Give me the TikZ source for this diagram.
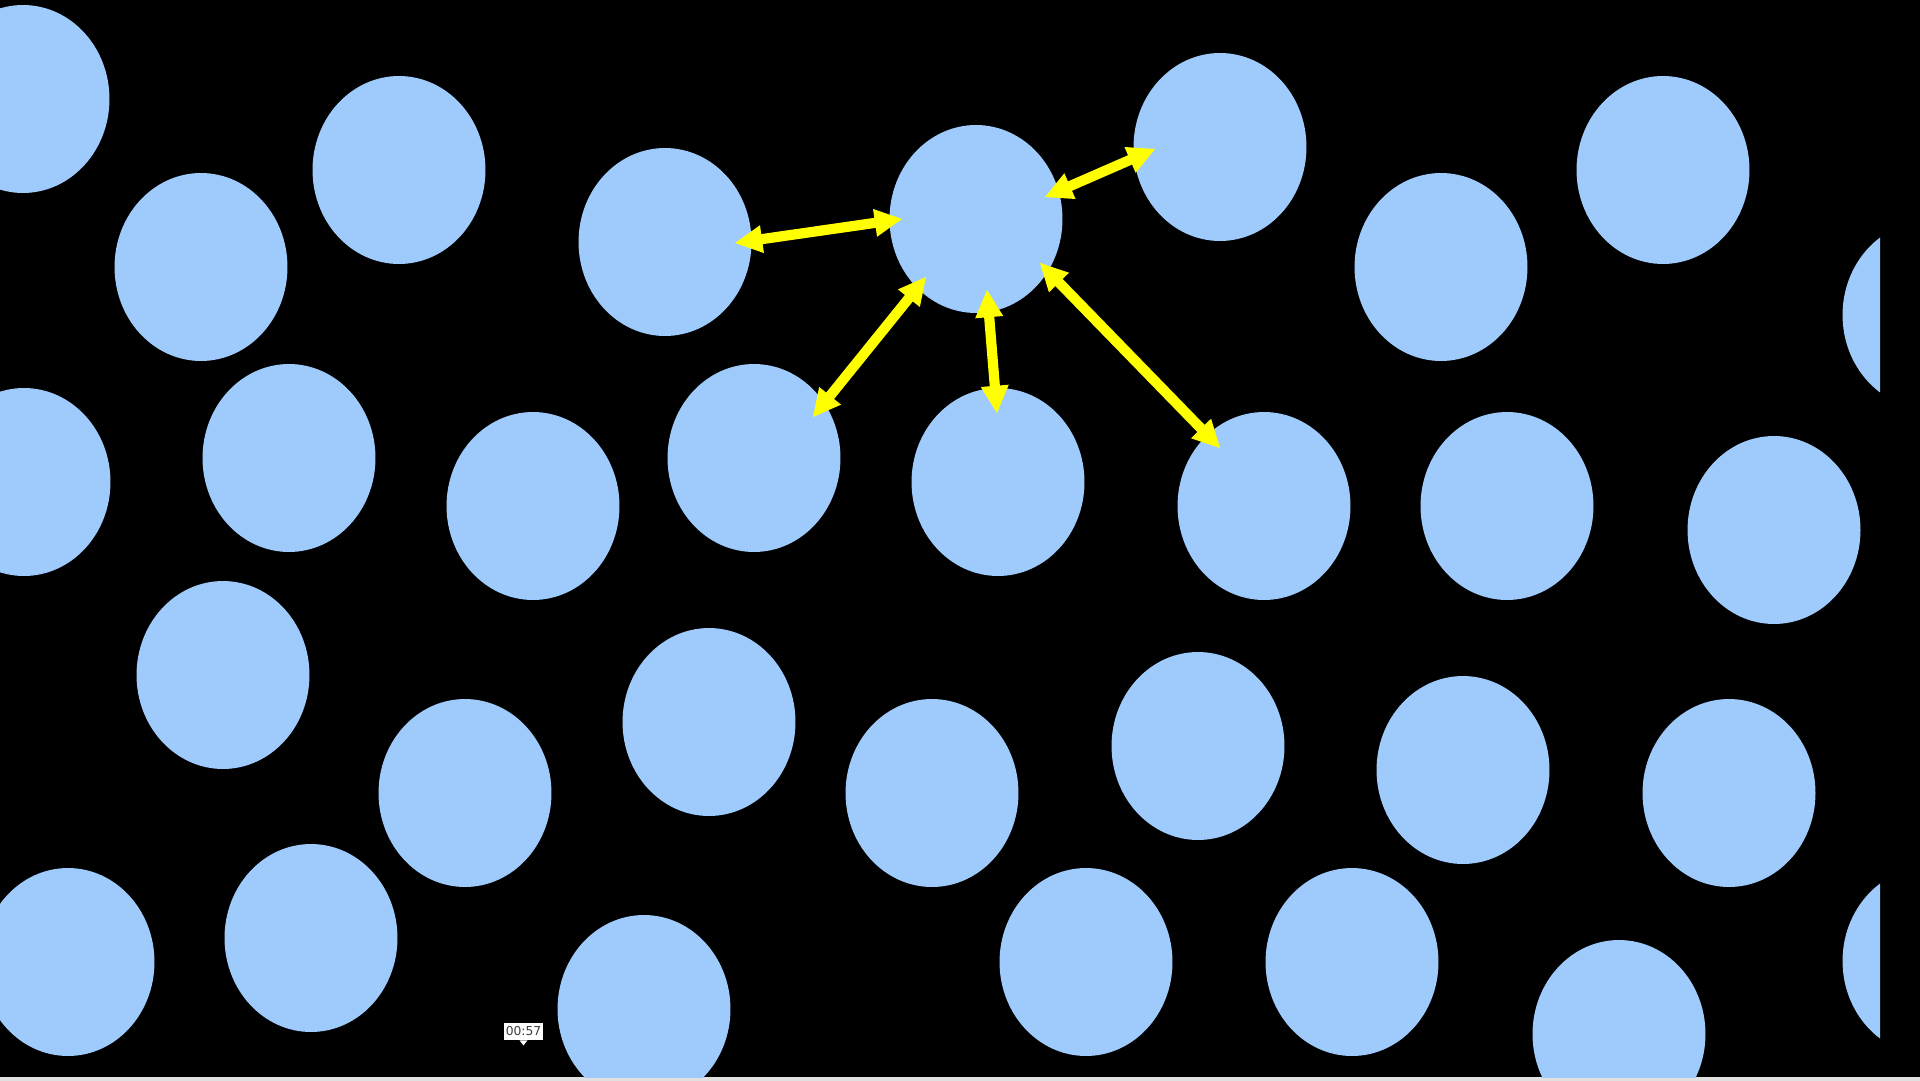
\documentclass[tikz,border=0pt]{standalone}
\usepackage{fontspec}
\newfontfamily\labelfont{DejaVu Sans}
\usetikzlibrary{shapes.geometric,calc}
\definecolor{ballblue}{RGB}{158,203,252}
\definecolor{arrowyellow}{RGB}{255,255,0}
\definecolor{stripgray}{RGB}{225,225,225}
\definecolor{labelgray}{RGB}{60,60,60}
\def\headlen{15.5pt}
\def\headhw{8pt}
\def\shafthw{2.9pt}
\newcommand\yellowlink[2]{%
  \coordinate (lm) at ($(#1)!\headlen!(#2)$);
  \coordinate (ln) at ($(#2)!\headlen!(#1)$);
  \fill[arrowyellow] (#1) -- ($(lm)!\headhw!90:(#1)$) -- ($(lm)!\shafthw!90:(#1)$)
    -- ($(ln)!\shafthw!-90:(#2)$) -- ($(ln)!\headhw!-90:(#2)$) -- (#2)
    -- ($(ln)!\headhw!90:(#2)$) -- ($(ln)!\shafthw!90:(#2)$)
    -- ($(lm)!\shafthw!-90:(#1)$) -- ($(lm)!\headhw!-90:(#1)$) -- cycle;}
\begin{document}
\begin{tikzpicture}[x=0.02cm,y=-0.02cm,
  ballnode/.style={ellipse,fill=ballblue,minimum width=3.46cm,minimum height=3.76cm,inner sep=0pt},
  timebox/.style={fill=white,text=labelgray,font=\labelfont\fontsize{7pt}{8pt}\selectfont,minimum width=0.78cm,minimum height=0.34cm,inner sep=0.5pt}]
\useasboundingbox (0,0) rectangle (1920,1081);
\fill[black] (0,0) rectangle (1920,1081);
\fill[stripgray] (0,1077) rectangle (1920,1081);
\begin{scope}
\clip (0,0) rectangle (1880,1077);
\node[ballnode] (c1) at (23,99) {};
\node[ballnode] (c2) at (201,267) {};
\node[ballnode] (c3) at (399,170) {};
\node[ballnode] (c4) at (665,242) {};
\node[ballnode] (c5) at (976,219) {};
\node[ballnode] (c6) at (1220,147) {};
\node[ballnode] (c7) at (1441,267) {};
\node[ballnode] (c8) at (1663,170) {};
\node[ballnode] (c9) at (1929,315) {};
\node[ballnode] (c10) at (24,482) {};
\node[ballnode] (c11) at (289,458) {};
\node[ballnode] (c12) at (533,506) {};
\node[ballnode] (c13) at (754,458) {};
\node[ballnode] (c14) at (998,482) {};
\node[ballnode] (c15) at (1264,506) {};
\node[ballnode] (c16) at (1507,506) {};
\node[ballnode] (c17) at (1774,530) {};
\node[ballnode] (c18) at (223,675) {};
\node[ballnode] (c19) at (465,793) {};
\node[ballnode] (c20) at (709,722) {};
\node[ballnode] (c21) at (932,793) {};
\node[ballnode] (c22) at (1198,746) {};
\node[ballnode] (c23) at (1463,770) {};
\node[ballnode] (c24) at (1729,793) {};
\node[ballnode] (c25) at (68,962) {};
\node[ballnode] (c26) at (311,938) {};
\node[ballnode] (c27) at (644,1009) {};
\node[ballnode] (c28) at (1086,962) {};
\node[ballnode] (c29) at (1352,962) {};
\node[ballnode] (c30) at (1619,1034) {};
\node[ballnode] (c31) at (1929,961) {};
\end{scope}
\coordinate (a1s) at ($(c4)+(70,1)$);
\coordinate (a1e) at ($(c5)+(-74,0)$);
\coordinate (a2s) at ($(c5)+(69,-22)$);
\coordinate (a2e) at ($(c6)+(-65,2)$);
\coordinate (a3s) at ($(c13)+(59,-41)$);
\coordinate (a3e) at ($(c5)+(-50,58)$);
\coordinate (a4s) at ($(c5)+(11,71)$);
\coordinate (a4e) at ($(c14)+(-1,-69)$);
\coordinate (a5s) at ($(c5)+(64,44)$);
\coordinate (a5e) at ($(c15)+(-44,-58)$);
\yellowlink{a1s}{a1e}
\yellowlink{a2s}{a2e}
\yellowlink{a3s}{a3e}
\yellowlink{a4s}{a4e}
\yellowlink{a5s}{a5e}
\node[timebox] (time) at (523.5,1031.5) {00:57};
\fill[white] ($(time.south)+(-4,0)$) -- ($(time.south)+(4,0)$) -- ($(time.south)+(0,5)$) -- cycle;
\end{tikzpicture}
\end{document}
